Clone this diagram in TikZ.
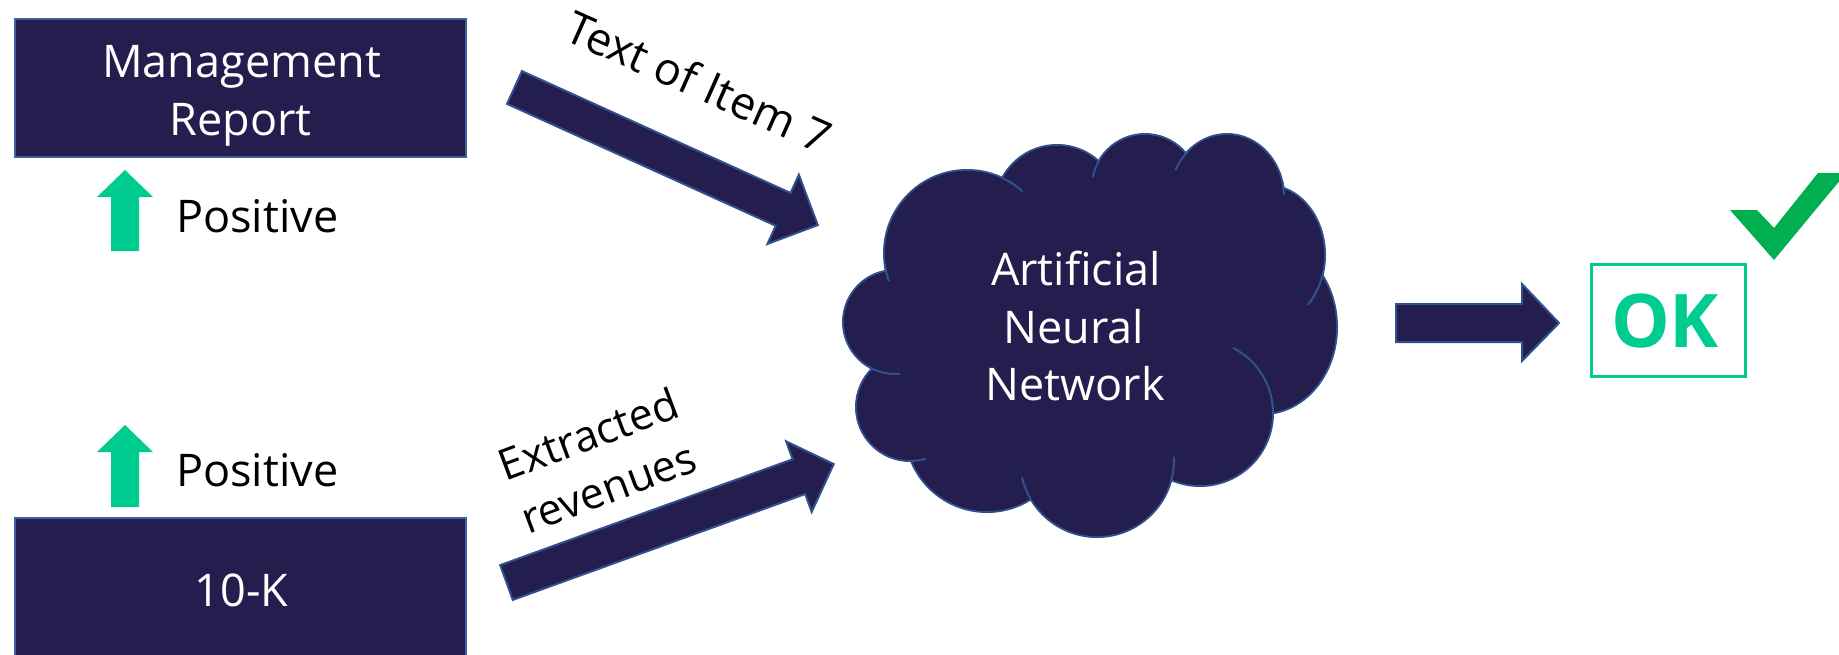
\documentclass[tikz,border=0pt]{standalone}
\usepackage{fontspec}
\setmainfont{Open Sans}
\definecolor{navy}{HTML}{241E4E}
\definecolor{edgeblue}{HTML}{2F528F}
\definecolor{boxedge}{HTML}{41609F}
\definecolor{mint}{HTML}{00CC92}
\definecolor{checkgreen}{HTML}{00B050}
\tikzset{
  navybox/.style={draw=boxedge, line width=2pt, fill=navy, inner sep=0pt, minimum width=451pt, minimum height=138pt},
  wtext/.style={text=white, font=\fontsize{45}{54}\selectfont, inner sep=0pt, anchor=base},
  btext/.style={text=black, font=\fontsize{45}{54}\selectfont, inner sep=0pt, anchor=base},
  rtext/.style={text=black, font=\fontsize{43}{50}\selectfont, inner sep=0pt, anchor=base},
  blockarrow/.style={fill=navy, draw=edgeblue, line width=2pt, line join=miter},
  uparrow/.style={fill=mint},
  lobe/.style={fill=navy, draw=edgeblue, line width=2pt},
  innerarc/.style={draw=edgeblue, line width=2pt},
  okframe/.style={draw=mint, line width=3pt, inner sep=0pt, minimum width=154pt, minimum height=112pt}
}
\begin{document}
\begin{tikzpicture}[x=1pt, y=-1pt]
\useasboundingbox (0,0) rectangle (1839,654);
\clip (0,0) rectangle (1839,654);

% boxes
\node[navybox] (mgmt) at (240.5,88) {};
\node[wtext] (mgmtA) at (241.5,77) {Management};
\node[wtext] (mgmtB) at (240.5,135) {Report};
\node[navybox, minimum height=200pt] (tenk) at (240.5,618) {};
\node[wtext] (tenkT) at (241.5,606) {10-K};

% green up arrows
\fill[uparrow] (111,251) -- (111,197) -- (97,197) -- (125,170) -- (153,197) -- (139,197) -- (139,251) -- cycle;
\fill[uparrow] (111,507) -- (111,452) -- (97,452) -- (125,425) -- (153,452) -- (139,452) -- (139,507) -- cycle;
\node[btext, anchor=base west] (posA) at (176,232) {Positive};
\node[btext, anchor=base west] (posB) at (176,486) {Positive};

% block arrows
\begin{scope}[shift={(514.5,87.5)}, rotate=-24.4]
  \draw[blockarrow] (0,-18) -- (295,-18) -- (295,-38) -- (333,0) -- (295,38) -- (295,18) -- (0,18) -- cycle;
\end{scope}
\begin{scope}[shift={(506.5,582.5)}, rotate=19.9]
  \draw[blockarrow] (0,-18.5) -- (311,-18.5) -- (311,-37.5) -- (348,0) -- (311,37.5) -- (311,18.5) -- (0,18.5) -- cycle;
\end{scope}
\draw[blockarrow] (1396,304) -- (1522,304) -- (1522,284) -- (1559,323) -- (1522,361) -- (1522,342) -- (1396,342) -- cycle;

\node[rtext, rotate=-24, font=\fontsize{45}{50}\selectfont] (lblItem) at (692,97) {Text of Item 7};
\node[rtext, rotate=20.5] (lblExA) at (594,449) {Extracted};
\node[rtext, rotate=20.5] (lblExB) at (614,502) {revenues};

% cloud: lobes with outline
\path[lobe] (895,322) circle[radius=52];
\path[lobe] (967,253) circle[radius=83];
\path[lobe] (1057,207) circle[radius=62];
\path[lobe] (1145,187) circle[radius=53];
\path[lobe] (1227,197) ellipse[x radius=57, y radius=63];
\path[lobe] (1267,255) ellipse[x radius=58, y radius=70];
\path[lobe] (1263,327) ellipse[x radius=74, y radius=87];
\path[lobe] (1200,413) circle[radius=73];
\path[lobe] (1097,460) circle[radius=77];
\path[lobe] (987,430) circle[radius=82];
\path[lobe] (910,407) circle[radius=54];
% cloud: interior fill hiding inner strokes
\fill[navy] (895,322) circle[radius=51];
\fill[navy] (967,253) circle[radius=82];
\fill[navy] (1057,207) circle[radius=61];
\fill[navy] (1145,187) circle[radius=52];
\fill[navy] (1227,197) ellipse[x radius=56, y radius=62];
\fill[navy] (1267,255) ellipse[x radius=57, y radius=69];
\fill[navy] (1263,327) ellipse[x radius=73, y radius=86];
\fill[navy] (1200,413) circle[radius=72];
\fill[navy] (1097,460) circle[radius=76];
\fill[navy] (987,430) circle[radius=81];
\fill[navy] (910,407) circle[radius=53];
\fill[navy] (895,322) -- (967,253) -- (1057,207) -- (1145,187) -- (1227,197) -- (1267,255) -- (1263,327) -- (1200,413) -- (1097,460) -- (987,430) -- (910,407) -- cycle;
% cloud: inner arcs
\draw[innerarc] (967,253) ++(172:83) arc[start angle=172, end angle=160, radius=83];
\draw[innerarc] (967,253) ++(-64:83) arc[start angle=-64, end angle=-48, radius=83];
\draw[innerarc] (1145,187) ++(210:53) arc[start angle=210, end angle=191, radius=53];
\draw[innerarc] (1227,197) ++({57*cos(226)},{63*sin(226)}) arc[start angle=226, end angle=205, x radius=57, y radius=63];
\draw[innerarc] (1227,197) ++({57*cos(-14)},{63*sin(-14)}) arc[start angle=-14, end angle=-1.6, x radius=57, y radius=63];
\draw[innerarc] (1267,255) ++({58*cos(14)},{70*sin(14)}) arc[start angle=14, end angle=45.5, x radius=58, y radius=70];
\draw[innerarc] (1200,413) ++(-63:73) arc[start angle=-63, end angle=2, radius=73];
\draw[innerarc] (1097,460) ++(-2.5:77) arc[start angle=-2.5, end angle=15, radius=77];
\draw[innerarc] (1097,460) ++(167:77) arc[start angle=167, end angle=150, radius=77];
\draw[innerarc] (910,407) ++(92:54) arc[start angle=92, end angle=73, radius=54];
\draw[innerarc] (895,322) ++(120:52) arc[start angle=120, end angle=85, radius=52];

\node[wtext] (annA) at (1076,285) {Artificial};
\node[wtext] (annB) at (1074,343) {Neural};
\node[wtext] (annC) at (1075,400) {Network};

% OK box and check
\node[okframe] (okbox) at (1668,320) {};
\node[text=mint, font=\bfseries\fontsize{74}{80}\selectfont, inner sep=0pt, anchor=base] (oktext) at (1665,347) {OK};
\fill[checkgreen] (1730,210) -- (1757,210) -- (1774,228) -- (1818,173) -- (1846,173) -- (1774,260) -- cycle;
\end{tikzpicture}
\end{document}
